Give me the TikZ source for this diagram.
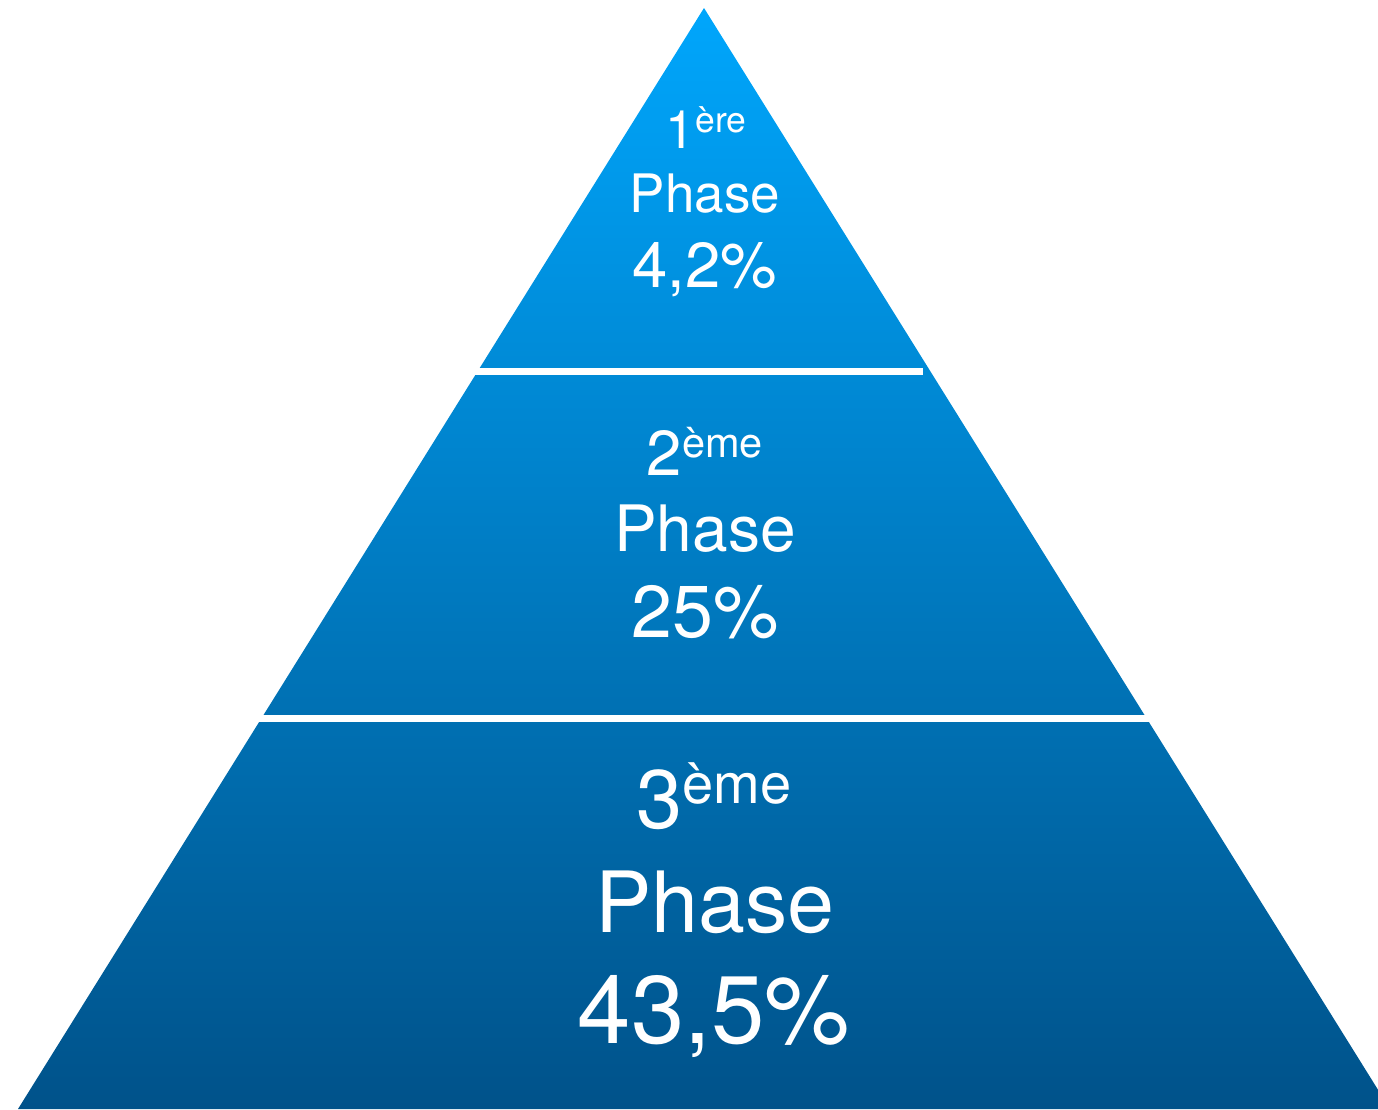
\documentclass[tikz,border=0pt]{standalone}
\usepackage{fontspec}
\setmainfont{TeX Gyre Heros}
\usetikzlibrary{positioning}

\definecolor{pyrtop}{RGB}{0,166,252}
\definecolor{pyrbottom}{RGB}{0,82,138}

% rang : chiffre, exposant, taille, taille exposant, montee
\newcommand{\rangtext}[5]{{\fontsize{#3}{#3}\selectfont #1}\raisebox{#5pt}{\fontsize{#4}{#4}\selectfont #2}}

\begin{document}
\begin{tikzpicture}[x=1pt,y=-1pt]

\tikzset{pyrtext/.style={text=white, inner sep=0pt, anchor=base},
         separator/.style={draw=white, line width=7pt}}

\useasboundingbox (0,0) rectangle (1378,1109);

% la pyramide
\coordinate (apex) at (704,8);
\coordinate (baseleft) at (18,1109);
\coordinate (baseright) at (1390,1109);
\shade[top color=pyrtop, bottom color=pyrbottom] (apex) -- (baseleft) -- (baseright) -- cycle;

% separations
\coordinate (sepAl) at (472,371);
\coordinate (sepAr) at (923,371);
\coordinate (sepBl) at (250,718);
\coordinate (sepBr) at (1150,718);
\draw[separator] (sepAl) -- (sepAr);
\draw[separator] (sepBl) -- (sepBr);

% 1ere phase
\node[pyrtext] (rangA) at (706,148) {\rangtext{1}{ère}{53}{35.5}{16}};
\node[pyrtext, font=\fontsize{53}{53}\selectfont] (phaseA) at (705,212) {Phase};
\node[pyrtext, font=\fontsize{63.5}{63.5}\selectfont] (pctA) at (705,287) {4,2\%};

% 2eme phase
\node[pyrtext] (rangB) at (705,475) {\rangtext{2}{ème}{63.5}{41.5}{18}};
\node[pyrtext, font=\fontsize{64}{64}\selectfont] (phaseB) at (705,551) {Phase};
\node[pyrtext, font=\fontsize{73.5}{73.5}\selectfont] (pctB) at (705,637) {25\%};

% 3eme phase
\node[pyrtext] (rangC) at (714,828) {\rangtext{3}{ème}{83}{56}{25}};
\node[pyrtext, font=\fontsize{84.5}{84.5}\selectfont] (phaseC) at (715,932) {Phase};
\node[pyrtext, font=\fontsize{96}{96}\selectfont] (pctC) at (714,1043) {43,5\%};

\end{tikzpicture}
\end{document}
